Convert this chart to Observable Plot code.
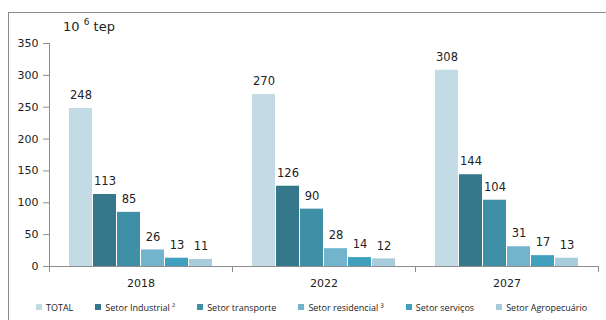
<!DOCTYPE html>
<html>
<head>
<meta charset="utf-8">
<script src="https://cdn.jsdelivr.net/npm/d3@7"></script>
<script src="https://cdn.jsdelivr.net/npm/@observablehq/plot@0.6"></script>
<style>
  html, body { margin: 0; padding: 0; background: #fff; }
  body { width: 606px; height: 320px; position: relative; overflow: hidden; font-family: "DejaVu Sans", sans-serif; }
  #frame { position: absolute; left: 8px; top: 12px; width: 700px; height: 400px; border-top: 1px solid #8d8d8d; border-left: 1px solid #8d8d8d; }
  #chart { position: absolute; left: 0; top: 0; }
  #unit { position: absolute; left: 63px; top: 19px; font-size: 13px; color: #222; font-family: "DejaVu Sans", sans-serif; }
  #unit sup { font-size: 9px; position: relative; top: -1px; vertical-align: super; line-height: 0; }
  #legend { position: absolute; left: 36px; top: 299px; width: 570px; }
  .leg-swatches { font-family: "Open Sans", sans-serif; font-size: 9px; color: #222; min-height: 16px !important; flex-wrap: nowrap !important; white-space: nowrap; }
  .leg-swatch { margin-right: 22px !important; white-space: nowrap; }
  .leg-swatch:last-child { margin-right: 0 !important; }
  .leg-swatch > svg { margin-right: 4px !important; }
</style>
</head>
<body>
<div id="frame"></div>
<div id="chart"></div>
<div id="unit">10 <sup>6</sup> tep</div>
<div id="legend"></div>
<script>
const years = ["2018", "2022", "2027"];
const sectors = ["TOTAL", "Setor Industrial ²", "Setor transporte", "Setor residencial ³", "Setor serviços", "Setor Agropecuário"];
const values2018 = [248, 113, 85, 26, 13, 11];
const values2022 = [270, 126, 90, 28, 14, 12];
const values2027 = [308, 144, 104, 31, 17, 13];
const colors = ["#c2dbe5", "#35788c", "#3f8fa7", "#71b4cb", "#3fa1be", "#a7ccdb"];
const yTicks = [0, 50, 100, 150, 200, 250, 300, 350];

const series = [values2018, values2022, values2027];
const data = [];
years.forEach((yr, i) => sectors.forEach((s, j) => data.push({year: yr, sector: s, value: series[i][j]})));

const chart = Plot.plot({
  width: 606,
  height: 295,
  marginTop: 43,
  marginBottom: 29,
  marginLeft: 49,
  marginRight: 8,
  style: {fontFamily: "DejaVu Sans, sans-serif", fontSize: "11px", color: "#222", background: "transparent"},
  fx: {domain: years, padding: 0, axis: "bottom", tickSize: 0, tickPadding: 13, label: null},
  x: {domain: sectors, paddingInner: 0.05, paddingOuter: 0.8, axis: null},
  y: {domain: [0, 350], axis: null},
  color: {domain: sectors, range: colors},
  marks: [
    Plot.axisY({ticks: yTicks, tickSize: 6, tickPadding: 5, stroke: "#8d8d8d", fill: "#222", label: null, fontSize: 11}),
    Plot.frame({anchor: "left", stroke: "#8d8d8d", facetAnchor: "left"}),
    Plot.barY(data, {fx: "year", x: "sector", y: "value", fill: "sector"}),
    Plot.ruleY([0], {stroke: "#8d8d8d"}),
    Plot.frame({anchor: "left", stroke: "#8d8d8d", insetTop: 223, insetBottom: -5}),
    Plot.frame({anchor: "right", stroke: "#8d8d8d", insetTop: 223, insetBottom: -5}),
    Plot.text(data, {fx: "year", x: "sector", y: "value", text: "value", dy: -13, fill: "#222", fontSize: 11.5})
  ]
});
document.getElementById("chart").appendChild(chart);

const legend = Plot.legend({
  color: {domain: sectors, range: colors},
  swatchSize: 6,
  className: "leg"
});
document.getElementById("legend").appendChild(legend);
</script>
</body>
</html>
